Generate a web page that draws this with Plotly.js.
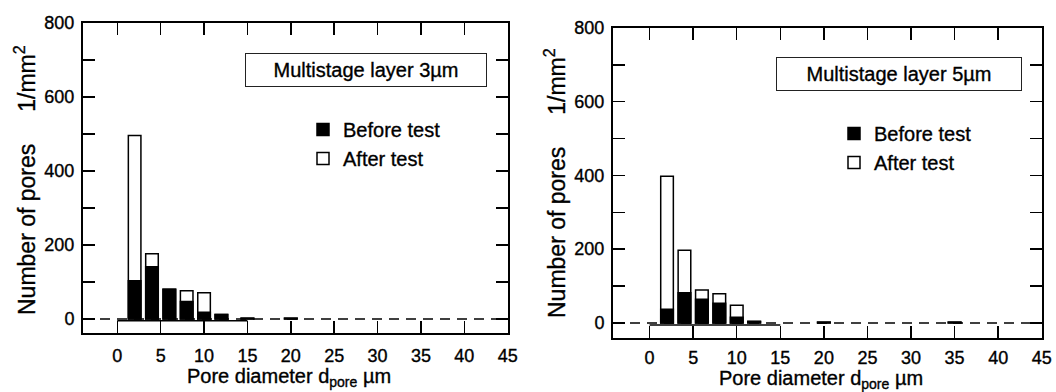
<!DOCTYPE html>
<html>
<head>
<meta charset="utf-8">
<script src="https://cdn.plot.ly/plotly-3.0.1.min.js"></script>
<style>
html,body{margin:0;padding:0;background:#fff;}
#chart{width:1056px;height:392px;}
#chart text{stroke:#000;stroke-width:0.35px;}
</style>
</head>
<body>
<div id="chart"></div>
<script>
// Pore diameter bins (µm)
const bins3 = [2, 4, 6, 8, 10, 12, 15, 20];
const before3 = [103, 141, 80, 47, 18, 12, 2, 2];
const after3 = [496, 176, 80, 76, 71, 12, 2, 2];

const bins5 = [2, 4, 6, 8, 10, 12, 20, 35];
const before5 = [37, 82, 64, 53, 15, 4, 2, 2];
const after5 = [398, 197, 89, 79, 48, 4, 2, 2];

const xTicks = [0, 5, 10, 15, 20, 25, 30, 35, 40, 45];
const yTicks = [0, 100, 200, 300, 400, 500, 600, 700, 800];
const yTickText = ['0', '', '200', '', '400', '', '600', '', '800'];

const panelLabels = ['Multistage layer 3µm', 'Multistage layer 5µm'];
const seriesNames = ['Before test', 'After test'];

const W = 1056, H = 392;
const FONT = 'Liberation Sans, Arial, Helvetica, sans-serif';
const px = v => v / W;
const py = v => 1 - v / H;

function afterTrace(x, y, xa, ya, leg) {
  return {type: 'bar', x: x, y: y, xaxis: xa, yaxis: ya, width: 1.45, name: seriesNames[1],
    legend: leg, legendrank: 2,
    marker: {color: '#ffffff', line: {color: '#000', width: 1.5}}, hoverinfo: 'x+y'};
}
function beforeTrace(x, y, xa, ya, leg) {
  return {type: 'bar', x: x, y: y, xaxis: xa, yaxis: ya, width: 1.45, name: seriesNames[0],
    legend: leg, legendrank: 1,
    marker: {color: '#000000', line: {color: '#000', width: 1.5}}, hoverinfo: 'x+y'};
}

const data = [
  afterTrace(bins3, after3, 'x', 'y', 'legend'),
  beforeTrace(bins3, before3, 'x', 'y', 'legend'),
  afterTrace(bins5, after5, 'x2', 'y2', 'legend2'),
  beforeTrace(bins5, before5, 'x2', 'y2', 'legend2')
];

function xAxis(d0, d1, anchor, r, so) {
  return {domain: [d0, d1], anchor: anchor, range: r, tickvals: xTicks, ticktext: xTicks.map(String),
    ticks: 'inside', ticklen: 12, tickwidth: 1.5, tickcolor: '#000', mirror: 'allticks',
    showline: true, linewidth: 2, linecolor: '#000', showgrid: false, zeroline: false,
    ticklabelstandoff: so, tickfont: {family: FONT, size: 18, color: '#000'}, fixedrange: true};
}
function yAxis(d0, d1, anchor, r) {
  return {domain: [d0, d1], anchor: anchor, range: r, tickvals: yTicks, ticktext: yTickText,
    ticks: 'inside', ticklen: 12, tickwidth: 1.5, tickcolor: '#000', mirror: 'allticks',
    showline: true, linewidth: 2, linecolor: '#000', showgrid: false, zeroline: false,
    ticklabelstandoff: 3, tickfont: {family: FONT, size: 18, color: '#000'}, fixedrange: true};
}

const yTitle = 'Number of pores\u00A0\u00A0\u00A0\u00A0\u00A01/mm<sup>2</sup>';
const xTitle = 'Pore diameter d<sub>pore</sub> µm';

const layout = {
  width: W, height: H,
  margin: {l: 0, r: 0, t: 0, b: 0},
  paper_bgcolor: '#fff', plot_bgcolor: '#fff',
  barmode: 'overlay',
  showlegend: true,
  font: {family: FONT, color: '#000'},
  xaxis: xAxis(px(83), px(508), 'y', [-3.95, 45.03], 5),
  yaxis: yAxis(1 - 333 / H, 1 - 23 / H, 'x', [-38, 800]),
  xaxis2: xAxis(px(613), px(1042), 'y2', [-4.2, 45.03], 2),
  yaxis2: yAxis(1 - 338 / H, 1 - 28 / H, 'x2', [-41, 800]),
  legend: {x: px(303), y: py(110), xanchor: 'left', yanchor: 'top', bgcolor: 'rgba(0,0,0,0)',
    font: {family: FONT, size: 20, color: '#000'}, tracegroupgap: 0},
  legend2: {x: px(834), y: py(114), xanchor: 'left', yanchor: 'top', bgcolor: 'rgba(0,0,0,0)',
    font: {family: FONT, size: 20, color: '#000'}, tracegroupgap: 0},
  shapes: [
    {type: 'line', xref: 'x', yref: 'y', x0: -3.95, x1: 45.03, y0: 0, y1: 0,
      line: {color: '#000', width: 1.5, dash: '10px,7px'}, layer: 'below'},
    {type: 'line', xref: 'x', yref: 'y', x0: 0, x1: 15, y0: -5, y1: -5,
      line: {color: '#000', width: 1.5}, layer: 'below'},
    {type: 'line', xref: 'x2', yref: 'y2', x0: -4.2, x1: 45.03, y0: 0, y1: 0,
      line: {color: '#000', width: 1.5, dash: '10px,7px'}, layer: 'below'},
    {type: 'line', xref: 'x2', yref: 'y2', x0: 0, x1: 15, y0: -6, y1: -6,
      line: {color: '#000', width: 1.5}, layer: 'below'}
  ],
  annotations: [
    {xref: 'paper', yref: 'paper', x: px(366), y: py(70), xanchor: 'center', yanchor: 'middle',
      text: panelLabels[0], showarrow: false, width: 238, height: 30, borderwidth: 1, bordercolor: '#222',
      borderpad: 1, font: {family: FONT, size: 20, color: '#000'}},
    {xref: 'paper', yref: 'paper', x: px(899), y: py(73.5), xanchor: 'center', yanchor: 'middle',
      text: panelLabels[1], showarrow: false, width: 242, height: 30, borderwidth: 1, bordercolor: '#222',
      borderpad: 1, font: {family: FONT, size: 20, color: '#000'}},
    {xref: 'paper', yref: 'paper', x: px(25), y: py(180), xanchor: 'center', yanchor: 'middle',
      textangle: -90, showarrow: false, text: yTitle,
      font: {family: FONT, size: 23, color: '#000'}},
    {xref: 'paper', yref: 'paper', x: px(555), y: py(183), xanchor: 'center', yanchor: 'middle',
      textangle: -90, showarrow: false, text: yTitle,
      font: {family: FONT, size: 23, color: '#000'}},
    {xref: 'paper', yref: 'paper', x: px(289), y: py(377), xanchor: 'center', yanchor: 'middle',
      showarrow: false, text: xTitle,
      font: {family: FONT, size: 20, color: '#000'}},
    {xref: 'paper', yref: 'paper', x: px(821), y: py(379), xanchor: 'center', yanchor: 'middle',
      showarrow: false, text: xTitle,
      font: {family: FONT, size: 20, color: '#000'}}
  ]
};

Plotly.newPlot('chart', data, layout, {staticPlot: true, displayModeBar: false});
</script>
</body>
</html>
